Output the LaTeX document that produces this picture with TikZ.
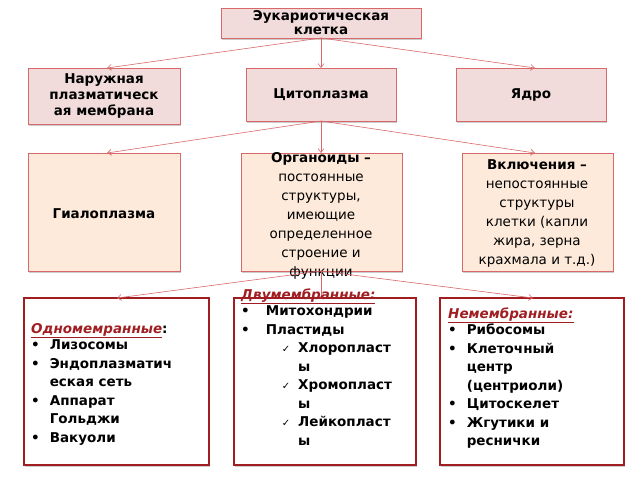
\documentclass[tikz,border=0pt]{standalone}
\usepackage{fontspec}
\setmainfont{DejaVu Sans}
\usetikzlibrary{arrows.meta,shadows}
\definecolor{bx}{HTML}{F2DCDB}
\definecolor{bx2}{HTML}{FDEADA}
\definecolor{ln}{HTML}{D9686A}
\definecolor{dr}{HTML}{A01E22}
\tikzset{
 top/.style={draw=ln,fill=bx,line width=0.8pt,drop shadow={shadow xshift=1pt,shadow yshift=-1.5pt,opacity=.4}},
 mid/.style={draw=ln,fill=bx2,line width=0.8pt,drop shadow={shadow xshift=1pt,shadow yshift=-1.5pt,opacity=.4}},
 low/.style={draw=dr,fill=white,line width=1.8pt,drop shadow={shadow xshift=1pt,shadow yshift=-2pt,opacity=.4}},
 arr/.style={draw=ln,line width=0.6pt,-{Straight Barb[length=4pt,width=6pt]}},
 txt/.style={font=\bfseries\fontsize{13.5}{15}\selectfont,align=center},
 lst/.style={anchor=north west,inner sep=0pt,font=\bfseries\fontsize{13.5}{18.5}\selectfont},
}
\newcommand{\hd}[1]{\textcolor{dr}{\underline{\itshape #1}}}
\newcommand{\ck}{\fontsize{10}{12}\selectfont ✓}
\begin{document}
\begin{tikzpicture}[x=1pt,y=-1pt]
\useasboundingbox (0,0) rectangle (640,480);
\path[top] (221,8) rectangle (421,38); \node[txt,font=\bfseries\fontsize{13.5}{14}\selectfont] (a) at (321,23) {Эукариотическая\\клетка};
\coordinate (aS) at (321,38);
\path[top] (28,68) rectangle (180,124); \node[txt,font=\bfseries\fontsize{13.5}{16}\selectfont] (b1) at (104,96) {Наружная\\плазматическ\\ая мембрана};
\path[top] (246,68) rectangle (396,121); \node[txt] (b2) at (321,95) {Цитоплазма};
\path[top] (456,68) rectangle (606,121); \node[txt] (b3) at (531,95) {Ядро};
\coordinate (b1N) at (107,68); \coordinate (b2N) at (321,68); \coordinate (b3N) at (535,68);
\coordinate (b2S) at (321,121);
\path[mid] (28,153) rectangle (180,271); \node[txt] (c1) at (104,214) {Гиалоплазма};
\path[mid] (241,153) rectangle (402,271);
\node[align=center,font=\fontsize{13.5}{19}\selectfont,anchor=north] (c2) at (321,149) {\textbf{Органоиды –}\\постоянные\\структуры,\\имеющие\\определенное\\строение и\\функции};
\path[mid] (462,153) rectangle (613,271);
\node[align=center,font=\fontsize{13.5}{19}\selectfont,anchor=north] (c3) at (537,156) {\textbf{Включения –}\\непостоянные\\структуры\\клетки (капли\\жира, зерна\\крахмала и т.д.)};
\coordinate (c1N) at (107,153); \coordinate (c2N) at (321,153); \coordinate (c3N) at (535,153);
\coordinate (c2S) at (321,271);
\path[low] (24,298) rectangle (209,465);
\path[low] (234,298) rectangle (416,465);
\path[low] (440,298) rectangle (624,465);
\coordinate (d1N) at (117,298); \coordinate (d2N) at (321,298); \coordinate (d3N) at (533,298);
\foreach \t in {b1N,b2N,b3N} \draw[arr] (aS) -- (\t);
\foreach \t in {c1N,c2N,c3N} \draw[arr] (b2S) -- (\t);
\foreach \t in {d1N,d2N,d3N} \draw[arr] (c2S) -- (\t);
\node[lst] (l1) at (31,320) {%
\begin{tabular}{@{}l@{\hspace{10pt}}l@{}}
\multicolumn{2}{@{}l}{\hd{Одномемранные}:}\\[-2pt]
•&Лизосомы\\
•&Эндоплазматич\\
&еская сеть\\
•&Аппарат\\
&Гольджи\\
•&Вакуоли
\end{tabular}};
\node[lst] (l2) at (241,286) {%
\begin{tabular}{@{}l@{\hspace{10pt}}l@{\hspace{8pt}}l@{}}
\multicolumn{3}{@{}l}{\hd{Двумембранные:}}\\[-2pt]
•&\multicolumn{2}{l}{Митохондрии}\\
•&\multicolumn{2}{l}{Пластиды}\\
&\hspace{22pt}\ck&Хлоропласт\\
&&ы\\
&\hspace{22pt}\ck&Хромопласт\\
&&ы\\
&\hspace{22pt}\ck&Лейкопласт\\
&&ы
\end{tabular}};
\node[lst] (l3) at (448,305) {%
\begin{tabular}{@{}l@{\hspace{10pt}}l@{}}
\multicolumn{2}{@{}l}{\hd{Немембранные:}}\\[-2pt]
•&Рибосомы\\
•&Клеточный\\
&центр\\
&(центриоли)\\
•&Цитоскелет\\
•&Жгутики и\\
&реснички
\end{tabular}};
\end{tikzpicture}
\end{document}
